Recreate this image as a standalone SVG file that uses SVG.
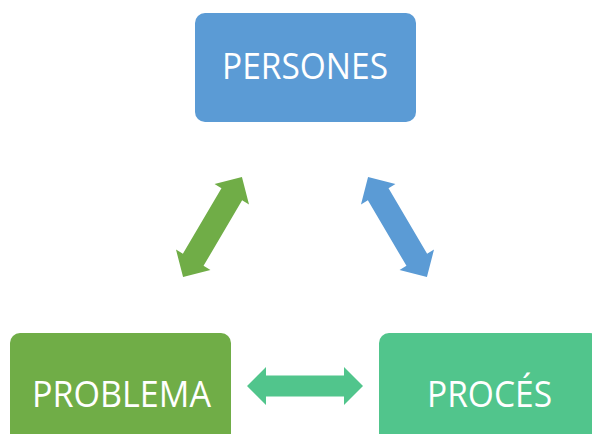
<svg xmlns="http://www.w3.org/2000/svg" width="592" height="434" viewBox="0 0 592 434">
<defs>
<style>
.lbl{font-family:"Open Sans","Noto Sans",sans-serif;font-size:36px;fill:#ffffff;text-anchor:middle}
</style>
<path id="dbl" d="M-58,0 L-39,-19 L-39,-10.5 L39,-10.5 L39,-19 L58,0 L39,19 L39,10.5 L-39,10.5 L-39,19 Z"/>
<path id="diag" d="M-58,0 L-38,-20 L-38,-12 L38,-12 L38,-20 L58,0 L38,20 L38,12 L-38,12 L-38,20 Z"/>
</defs>
<rect width="592" height="434" fill="#ffffff"/>
<g id="connectors">
<use href="#diag" fill="#70AD47" transform="translate(212.5,227) rotate(-59.5)"/>
<use href="#diag" fill="#5B9BD5" transform="translate(397.5,227) rotate(59.5)"/>
<use href="#dbl" fill="#51C58C" transform="translate(305,386)"/>
</g>
<g id="persones">
<rect x="195" y="13" width="221" height="109" rx="10" fill="#5B9BD5"/>
<text class="lbl" x="305" y="79" textLength="166" lengthAdjust="spacingAndGlyphs">PERSONES</text>
</g>
<g id="problema">
<rect x="10" y="333" width="221" height="112" rx="10" fill="#70AD47"/>
<text class="lbl" x="121.5" y="407" textLength="179" lengthAdjust="spacingAndGlyphs">PROBLEMA</text>
</g>
<g id="proces">
<rect x="379" y="333" width="221" height="112" rx="10" fill="#51C58C"/>
<text class="lbl" x="489.5" y="407" textLength="125" lengthAdjust="spacingAndGlyphs">PROCÉS</text>
</g>
</svg>
